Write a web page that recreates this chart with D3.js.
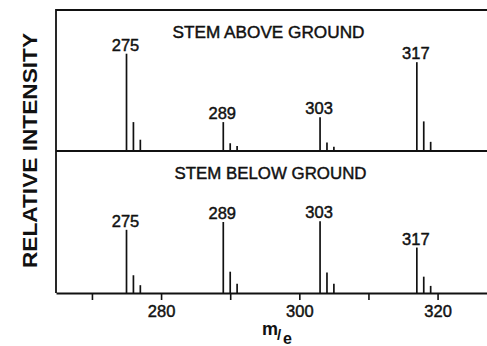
<!DOCTYPE html>
<html>
<head>
<meta charset="utf-8">
<script src="https://cdn.jsdelivr.net/npm/d3@7"></script>
<style>
  body { margin: 0; background: #fff; }
  text { font-family: "Liberation Sans", Arial, sans-serif; fill: #111; }
  text.heavy { stroke: #111; stroke-width: 0.45; }
</style>
</head>
<body>
<div id="chart"></div>
<script>
// m/e of each peak and its relative intensity in both panels
const masses = [275, 276, 277, 289, 290, 291, 303, 304, 305, 317, 318, 319];
const aboveGround = [69, 20.5, 8, 20.5, 5.5, 3.5, 24, 6, 3, 63, 21, 6.5];
const belowGround = [44.5, 12.5, 5.5, 50, 15, 6.5, 50.5, 14.5, 6.5, 32, 11.5, 5];
const labelledPeaks = [275, 289, 303, 317];
const tickValues = [270, 280, 290, 300, 310, 320];
const tickLabels = [280, 300, 320];
const panelTitles = ["STEM ABOVE GROUND", "STEM BELOW GROUND"];

(function () {
var width = 487, height = 346;
var plotLeft = 56, plotRight = 487, plotTop = 10, plotMid = 151, plotBottom = 293;

var svg = d3.select('#chart').append('svg')
    .attr('width', width)
    .attr('height', height);

var x = d3.scaleLinear().domain([264.8, 327.15]).range([plotLeft, plotRight]);
var yTop = d3.scaleLinear().domain([0, 100]).range([plotMid, plotTop]);
var yBot = d3.scaleLinear().domain([0, 100]).range([plotBottom, plotMid]);

// frame: top line and left side
svg.append('path')
    .attr('d', 'M' + plotRight + ',' + plotTop + 'H' + plotLeft + 'V' + plotBottom)
    .attr('fill', 'none').attr('stroke', '#111').attr('stroke-width', 1.8);

// upper panel baseline
svg.append('line')
    .attr('x1', plotLeft).attr('x2', plotRight).attr('y1', plotMid).attr('y2', plotMid)
    .attr('stroke', '#111').attr('stroke-width', 1.8);

// lower axis with ticks
var axis = d3.axisBottom(x)
    .tickValues(tickValues)
    .tickSize(7)
    .tickSizeOuter(0)
    .tickPadding(5)
    .tickFormat(function (d) { return tickLabels.indexOf(d) >= 0 ? d : ''; });

var gx = svg.append('g')
    .attr('transform', 'translate(0,' + plotBottom + ')')
    .call(axis);
gx.select('.domain').attr('stroke', '#111').attr('stroke-width', 1.8);
gx.selectAll('.tick line').attr('stroke', '#111').attr('stroke-width', 1.6);
gx.selectAll('.tick text')
    .attr('class', 'heavy')
    .attr('font-size', 16.5)
    .attr('font-family', '"Liberation Sans", Arial, sans-serif')
    .attr('fill', '#111');

function drawPanel(values, y, title, titleX, titleY) {
    var g = svg.append('g');
    g.selectAll('line.peak')
        .data(masses)
        .enter()
        .append('line')
        .attr('class', 'peak')
        .attr('x1', function (d) { return x(d); })
        .attr('x2', function (d) { return x(d); })
        .attr('y1', y(0))
        .attr('y2', function (d, i) { return y(values[i]); })
        .attr('stroke', '#111')
        .attr('stroke-width', 1.7);

    g.selectAll('text.plabel')
        .data(labelledPeaks)
        .enter()
        .append('text')
        .attr('class', 'plabel heavy')
        .attr('x', function (d) { return x(d) - 1; })
        .attr('y', function (d) { return y(values[masses.indexOf(d)]) - 3; })
        .attr('text-anchor', 'middle')
        .attr('font-size', 16.5)
        .text(function (d) { return d; });

    g.append('text')
        .attr('class', 'heavy')
        .attr('x', titleX)
        .attr('y', titleY)
        .attr('text-anchor', 'middle')
        .attr('font-size', 17)
        .attr('textLength', 192)
        .attr('lengthAdjust', 'spacingAndGlyphs')
        .text(title);
}

drawPanel(aboveGround, yTop, panelTitles[0], 268.5, 37.5);
drawPanel(belowGround, yBot, panelTitles[1], 270.5, 178.5);

// y axis title
svg.append('text')
    .attr('transform', 'translate(36.5,150.5) rotate(-90)')
    .attr('text-anchor', 'middle')
    .attr('font-size', 21)
    .attr('font-weight', 'bold')
    .attr('textLength', 235)
    .attr('lengthAdjust', 'spacingAndGlyphs')
    .text('RELATIVE INTENSITY');

// x axis title m/e
var xt = svg.append('g').attr('font-weight', 'bold');
xt.append('text').attr('x', 262).attr('y', 335).attr('font-size', 18).text('m');
xt.append('text').attr('x', 277).attr('y', 340).attr('font-size', 15).text('/');
xt.append('text').attr('x', 283).attr('y', 344).attr('font-size', 16).text('e');
})();
</script>
</body>
</html>
